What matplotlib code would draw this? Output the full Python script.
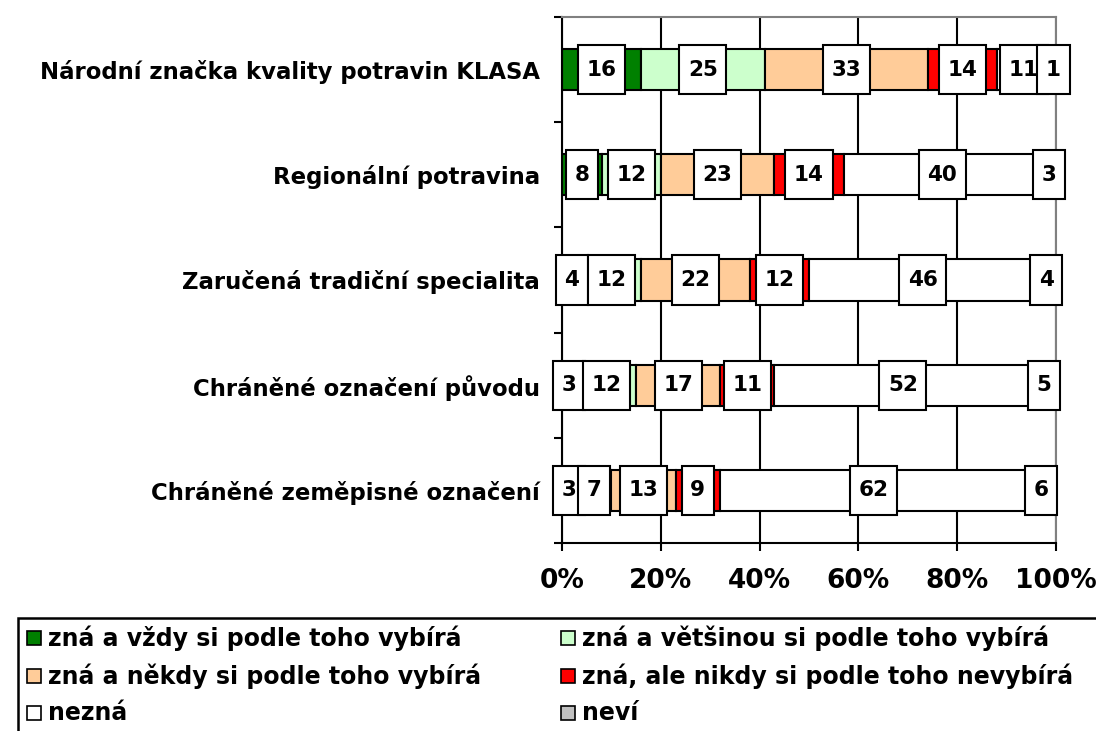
import matplotlib
matplotlib.use("Agg")
import matplotlib.pyplot as plt
from matplotlib.patches import Rectangle
from matplotlib.path import Path
import numpy as np

plt.rcParams['font.family'] = ['DejaVu Sans']

categories = [
    "Národní značka kvality potravin KLASA",
    "Regionální potravina",
    "Zaručená tradiční specialita",
    "Chráněné označení původu",
    "Chráněné zeměpisné označení",
]
series_names = [
    "zná a vždy si podle toho vybírá",
    "zná a většinou si podle toho vybírá",
    "zná a někdy si podle toho vybírá",
    "zná, ale nikdy si podle toho nevybírá",
    "nezná",
    "neví",
]
vzdy = [16, 8, 4, 3, 3]
vetsinou = [25, 12, 12, 12, 7]
nekdy = [33, 23, 22, 17, 13]
nikdy = [14, 14, 12, 11, 9]
nezna = [11, 40, 46, 52, 62]
nevi = [1, 3, 4, 5, 6]
series = [vzdy, vetsinou, nekdy, nikdy, nezna, nevi]
colors = ["#008000", "#CCFFCC", "#FFCC99", "#FF0000", "#FFFFFF", "#C0C0C0"]
xticks = [0, 20, 40, 60, 80, 100]
xticklabels = ["0%", "20%", "40%", "60%", "80%", "100%"]


def label_box(x0, y0, width, height, mutation_size):
    px = 0.40 * mutation_size
    py = 0.68 * mutation_size
    verts = [(x0 - px, y0 - py), (x0 + width + px, y0 - py),
             (x0 + width + px, y0 + height + py), (x0 - px, y0 + height + py),
             (x0 - px, y0 - py)]
    return Path(verts, closed=True)


W, H = 1096, 731
fig = plt.figure(figsize=(W / 100, H / 100), dpi=100)
ax = fig.add_axes([562 / W, 1 - 543 / H, (1056 - 562) / W, (543 - 17) / H])

y = np.arange(len(categories))
left = np.zeros(len(categories))
for vals, col, name in zip(series, colors, series_names):
    vals = np.array(vals, dtype=float)
    ax.barh(y, vals, left=left, height=0.39, color=col, edgecolor="black",
            linewidth=1.5, zorder=2, label=name)
    for yi, (l, v) in enumerate(zip(left, vals)):
        ax.text(l + v / 2, yi, f"{int(v)}", ha="center", va="center",
                fontsize=15.5, fontweight="bold", zorder=3,
                bbox=dict(boxstyle=label_box, fc="white", ec="black", lw=1.5))
    left += vals

ax.set_xlim(0, 100)
ax.set_ylim(len(categories) - 0.5, -0.5)

ax.set_xticks(xticks)
ax.set_xticklabels(xticklabels, fontsize=19, fontweight="bold")
ax.tick_params(axis="x", direction="out", length=6, width=1.5, pad=12)
ax.xaxis.grid(True, color="black", linewidth=1.5, zorder=0)
ax.set_axisbelow(True)

ax.set_yticks(np.arange(-0.5, len(categories), 1.0))
ax.set_yticklabels([])
ax.tick_params(axis="y", which="major", direction="out", length=6, width=1.5)
ax.set_yticks(y, minor=True)
ax.set_yticklabels(categories, minor=True, fontsize=16.4, fontweight="bold")
ax.tick_params(axis="y", which="minor", length=0, pad=16)

for s in ["left", "bottom"]:
    ax.spines[s].set_color("black")
    ax.spines[s].set_linewidth(1.5)
for s in ["top", "right"]:
    ax.spines[s].set_color("#808080")
    ax.spines[s].set_linewidth(1.5)

# legend (manual, Excel-like frame cut at figure edge)
fig.patches.append(Rectangle((18 / W, -0.1), 1.2, (H - 618) / H + 0.1,
                             transform=fig.transFigure, fill=False,
                             ec="black", lw=1.8))
rows_y = [638, 676, 713]
col_x = [27, 561]
for i, (name, col) in enumerate(zip(series_names, colors)):
    r, c = divmod(i, 2)
    mx = col_x[c]
    my = rows_y[r]
    fig.patches.append(Rectangle((mx / W, 1 - (my + 7) / H), 14 / W, 14 / H,
                                 transform=fig.transFigure, fc=col, ec="black", lw=1.2))
    fig.text((mx + 21) / W, 1 - my / H, name, ha="left", va="center",
             fontsize=17, fontweight="bold")

fig.savefig("out.png", dpi=100)
